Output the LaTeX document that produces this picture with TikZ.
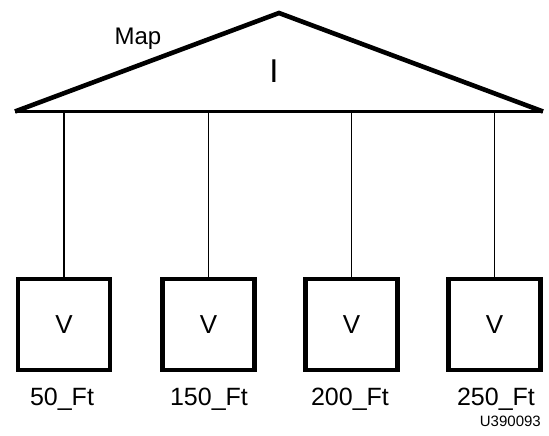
\documentclass[tikz,border=0pt]{standalone}
\usepackage{fontspec}
\setmainfont{Liberation Sans}
\begin{document}
\begin{tikzpicture}[x=1pt,y=-1pt,
  vbox/.style={draw,line width=4.5pt,minimum width=92pt,minimum height=91pt,inner sep=0pt,font=\fontsize{26}{26}\selectfont},
  lbl/.style={anchor=base,inner sep=0pt,font=\fontsize{25}{25}\selectfont},
  side/.style={line width=4.6pt,line join=miter},
  link/.style={line width=1.8pt}]
\useasboundingbox (0,0) rectangle (549,436);
\coordinate (L) at (15,111.5);
\coordinate (A) at (279,13);
\coordinate (R) at (543,111.5);
\draw[side] (L) -- (A) -- (R);
\draw[line width=2.6pt] (L) -- (R);
\node[anchor=base,inner sep=0pt,font=\fontsize{24}{24}\selectfont] (map) at (138,45) {Map};
\node[anchor=base,inner sep=0pt,font=\fontsize{33}{33}\selectfont] (i) at (274,83) {I};
\node[vbox] (v1) at (64,324.5) {V};
\node[vbox] (v2) at (208.5,324.5) {V};
\node[vbox] (v3) at (351.5,324.5) {V};
\node[vbox] (v4) at (494.5,324.5) {V};
\coordinate (b1) at (64,113);
\coordinate (b2) at (208.5,113);
\coordinate (b3) at (351.5,113);
\coordinate (b4) at (494.5,113);
\draw[link] (b1) -- (v1.north);
\draw[link] (b2) -- (v2.north);
\draw[link] (b3) -- (v3.north);
\draw[link] (b4) -- (v4.north);
\node[lbl] (l1) at (62,405) {50\_Ft};
\node[lbl] (l2) at (209,405) {150\_Ft};
\node[lbl] (l3) at (350,405) {200\_Ft};
\node[lbl] (l4) at (496,405) {250\_Ft};
\node[anchor=base east,inner sep=0pt,font=\fontsize{15}{15}\selectfont] (code) at (541,426) {U390093};
\end{tikzpicture}
\end{document}
